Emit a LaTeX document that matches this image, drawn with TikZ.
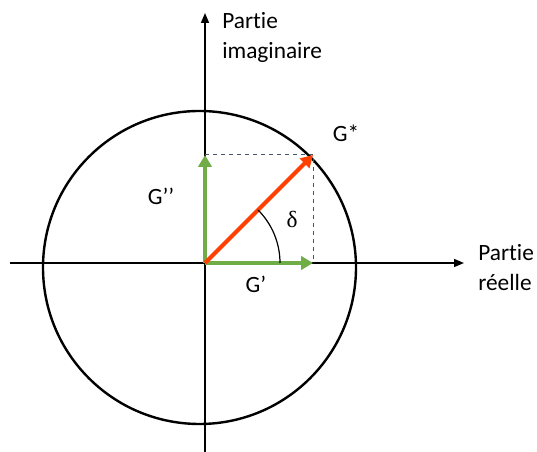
\documentclass[tikz,border=0pt]{standalone}
\usepackage{fontspec}
\setmainfont{Carlito}[RawFeature={-liga;-clig;-dlig;-calt}]
\newfontfamily\deltafont{Liberation Serif}
\usepackage{tikz}
\usetikzlibrary{arrows.meta, positioning}
\definecolor{modgreen}{RGB}{112,173,71}
\definecolor{modred}{RGB}{255,64,0}
\definecolor{dashblue}{RGB}{68,84,106}

\begin{document}
\begin{tikzpicture}[x=0.75pt, y=-0.75pt,
    font=\fontsize{17.5}{22.5}\selectfont,
    axis/.style={line width=1.1pt, -{Triangle[length=7.5pt, width=6pt]}},
    part/.style={-{Triangle[length=9pt, width=10pt]}, line width=3pt},
    label/.style={inner sep=0pt, align=left}]
  \useasboundingbox (0,0) rectangle (537,452);
  % points
  \coordinate (orig) at (205,263);
  \coordinate (xstart) at (10,263);
  \coordinate (xend) at (464,263);
  \coordinate (ystart) at (205,452);
  \coordinate (yend) at (205,13);
  \coordinate (gstar) at (313,155);
  \coordinate (gsec) at (205,155);
  \coordinate (gprim) at (313,263);
  \coordinate (centre) at (199.5,267.5);
  % axes and circle
  \draw[axis] (xstart) -- (xend);
  \draw[axis] (ystart) -- (yend);
  \draw[line width=1.8pt] (centre) circle[radius=156.5];
  % projections
  \draw[dashblue, dashed, line width=0.75pt] (gsec) -- (gstar) -- (gprim);
  \draw[part, modgreen] (orig) -- (gsec);
  \draw[part, modgreen] (orig) -- (gprim);
  \draw[part, modred] (orig) -- (gstar);
  \draw[line width=0.9pt] ([xshift=75*0.75pt]orig) arc[start angle=0, end angle=45, radius=75*0.75pt];
  % labels
  \node[label, anchor=west] (imag) at (222,37) {Part\kern0pt ie\\imaginaire};
  \node[label, anchor=west] (reel) at (478,268) {Part\kern0pt ie\\réelle};
  \node (lgstar) at (346,133) {G*};
  \node (lgsec) at (161,196) {G’’};
  \node (lgprim) at (256,284) {G’};
  \node (ldelta) at (292,219) {\deltafont δ};
\end{tikzpicture}
\end{document}
